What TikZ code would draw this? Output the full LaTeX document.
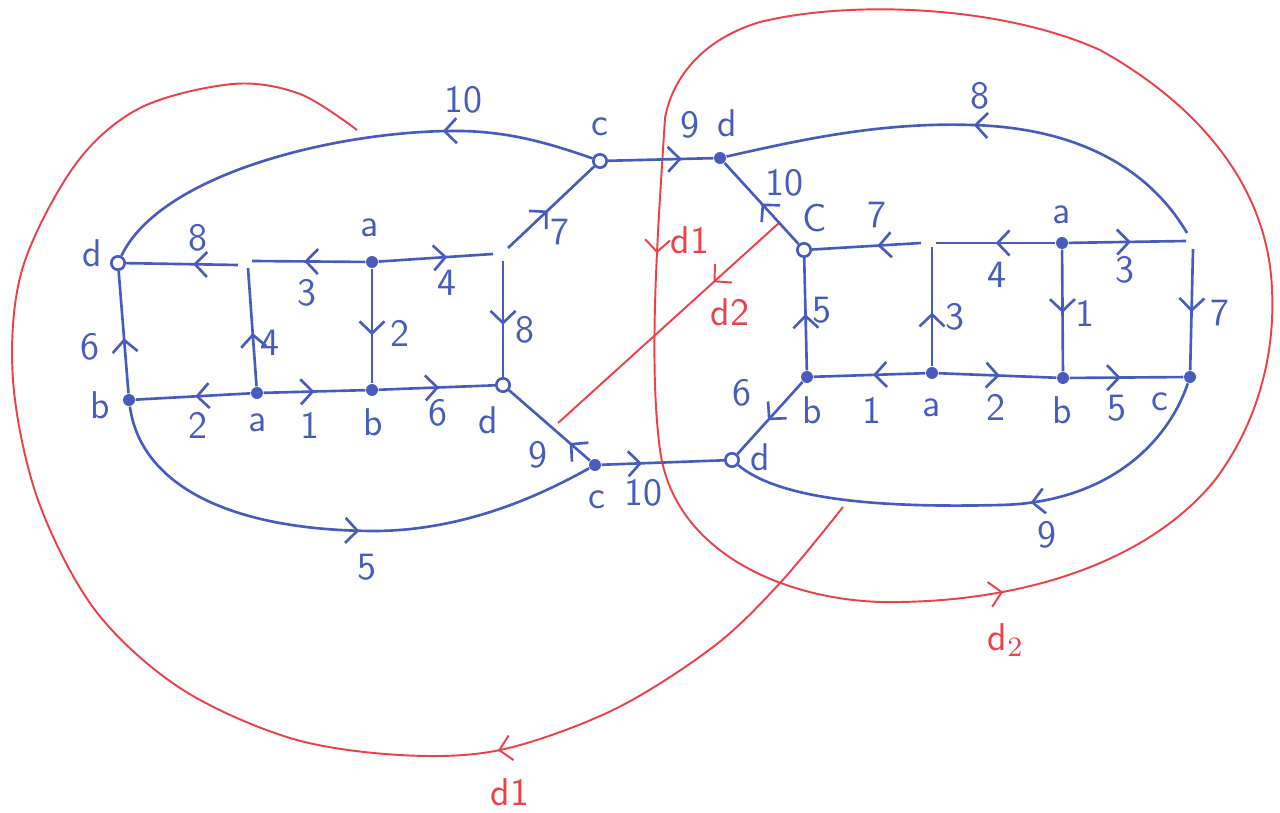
\documentclass[tikz,border=0pt]{standalone}
\usepackage{tikz}
\usetikzlibrary{arrows.meta,decorations.markings}

\definecolor{pen}{RGB}{72,92,190}
\definecolor{redpen}{RGB}{238,64,72}
\tikzset{chev/.tip={Straight Barb[length=1.2mm,width=2.5mm]}}

\begin{document}
\begin{tikzpicture}[
  x=0.01cm, y=-0.01cm,
  font=\sffamily\fontsize{11}{13}\selectfont,
  edge/.style={color=pen, line width=0.75pt},
  cut/.style={color=redpen, line width=0.55pt},
  fwd/.style={postaction={decorate,
    decoration={markings, mark=at position #1 with {\arrow{chev}}}}},
  fwd/.default=0.5,
  dot/.style={circle, fill=pen, inner sep=0pt, minimum size=3.4pt},
  ring/.style={circle, draw=pen, fill=white, line width=0.75pt,
    inner sep=0pt, minimum size=3.8pt},
  lbl/.style={text=pen, inner sep=1pt},
  rlbl/.style={text=redpen, inner sep=1pt}
]
  \useasboundingbox (0,0) rectangle (1280,813);

  % Red curves first, so the graph sits on top.
  \coordinate (r0) at (665,118);
  \draw[cut, fwd=0.068, fwd=0.375] (r0)
    .. controls (658,230) and (648,360) .. (660,450)
    .. controls (675,560) and (800,605) .. (900,602)
    .. controls (1030,600) and (1150,560) .. (1215,480)
    .. controls (1260,420) and (1275,350) .. (1272,290)
    .. controls (1268,180) and (1190,100) .. (1100,50)
    .. controls (1000,5) and (850,0) .. (760,22)
    .. controls (700,40) and (672,80) .. (r0);
  \draw[cut, fwd=0.258] plot[smooth, tension=0.55] coordinates {
    (843,507) (780,583) (713,647) (613,710) (500,750) (400,755) (290,738)
    (180,688) (95,610) (38,500) (13,380) (22,270) (75,165) (140,108)
    (233,84) (300,94) (357,130)};
  \coordinate (d2a) at (780,222);
  \coordinate (d2b) at (558,423);
  \draw[cut, fwd=0.3] (d2a) -- (d2b);

  % Left block vertices.
  \node[ring] (dL)  at (118,263) {};
  \node[dot]  (bL)  at (129,400) {};
  \node[dot]  (aB)  at (257,393) {};
  \node[dot]  (aL)  at (372,262) {};
  \node[dot]  (bM)  at (372,390) {};
  \node[ring] (dL2) at (503,385) {};

  % Middle vertices.
  \node[ring] (cT) at (600,161) {};
  \node[dot]  (dT) at (720,158) {};
  \node[ring] (cR) at (804,250) {};
  \node[dot]  (bR) at (807,377) {};
  \node[dot]  (cB) at (595,465) {};
  \node[ring] (dB) at (732,460) {};

  % Right block vertices.
  \node[dot] (aR)  at (1062,243) {};
  \node[dot] (aRB) at (932,373) {};
  \node[dot] (bRB) at (1063,378) {};
  \node[dot] (cRB) at (1190,377) {};

  % Loose ends where the strokes break.
  \coordinate (g8)  at (238,265);
  \coordinate (g3)  at (252,261);
  \coordinate (g4)  at (493,254);
  \coordinate (gv8) at (503,261);
  \coordinate (g7)  at (508,248);
  \coordinate (gv4) at (248,268);
  \coordinate (h7)  at (921,243);
  \coordinate (h4)  at (936,243);
  \coordinate (h3)  at (1186,241);
  \coordinate (hv7) at (1193,249);
  \coordinate (hv3) at (932,247);
  \coordinate (h8)  at (1187,233);

  % Left block edges.
  \draw[edge, fwd=0.4]  (g8) -- (dL);
  \draw[edge, fwd=0.54] (aL) -- (g3);
  \draw[edge, fwd=0.6]  (aL) -- (g4);
  \draw[edge, fwd=0.55] (gv8) -- (dL2);
  \draw[edge, fwd=0.46] (g7) -- (cT);
  \draw[edge, fwd=0.45] (bL) -- (dL);
  \draw[edge, fwd=0.45] (aB) -- (gv4);
  \draw[edge, fwd=0.58] (aL) -- (bM);
  \draw[edge, fwd=0.48] (aB) -- (bL);
  \draw[edge, fwd=0.5]  (aB) -- (bM);
  \draw[edge, fwd=0.52] (bM) -- (dL2);

  % Middle edges.
  \draw[edge, fwd=0.7]  (cT) -- (dT);
  \draw[edge, fwd=0.5]  (cR) -- (dT);
  \draw[edge, fwd=0.25] (cB) -- (dL2);
  \draw[edge, fwd=0.33] (cB) -- (dB);
  \draw[edge, fwd=0.53] (bR) -- (dB);

  % Long arcs.
  \draw[edge, fwd=0.3] (cT) .. controls (540,140) and (500,130) .. (447,131)
    .. controls (330,133) and (160,175) .. (dL);
  \draw[edge, fwd=0.54] (bL) .. controls (140,480) and (220,530) .. (373,531)
    .. controls (470,531) and (550,490) .. (cB);
  \draw[edge, fwd=0.5] (h8) .. controls (1150,170) and (1080,128) .. (972,125)
    .. controls (880,122) and (800,140) .. (dT);
  \draw[edge, fwd=0.41] (cRB) .. controls (1165,450) and (1100,503) .. (1000,505)
    .. controls (880,508) and (780,500) .. (dB);

  % Right block edges.
  \draw[edge, fwd=0.4]  (h7) -- (cR);
  \draw[edge, fwd=0.5]  (aR) -- (h4);
  \draw[edge, fwd=0.53] (aR) -- (h3);
  \draw[edge, fwd=0.52] (hv7) -- (cRB);
  \draw[edge, fwd=0.45] (aRB) -- (hv3);
  \draw[edge, fwd=0.52] (aR) -- (bRB);
  \draw[edge, fwd=0.5]  (bR) -- (cR);
  \draw[edge, fwd=0.47] (aRB) -- (bR);
  \draw[edge, fwd=0.52] (aRB) -- (bRB);
  \draw[edge, fwd=0.45] (bRB) -- (cRB);

  % Vertex letters.
  \node[lbl] (ldL)  at (92,253)   {d};
  \node[lbl] (laL)  at (370,228)  {a};
  \node[lbl] (lbL)  at (100,405)  {b};
  \node[lbl] (laB)  at (258,423)  {a};
  \node[lbl] (lbM)  at (373,422)  {b};
  \node[lbl] (ldL2) at (488,420)  {d};
  \node[lbl] (lcT)  at (600,127)  {c};
  \node[lbl] (ldT)  at (727,123)  {d};
  \node[lbl] (lcR)  at (815,218)  {C};
  \node[lbl] (lcB)  at (597,500)  {c};
  \node[lbl] (ldB)  at (760,457)  {d};
  \node[lbl] (lbR)  at (812,410)  {b};
  \node[lbl] (laR)  at (1062,215) {a};
  \node[lbl] (laRB) at (932,408)  {a};
  \node[lbl] (lbRB) at (1062,410) {b};
  \node[lbl] (lcRB) at (1160,402) {c};

  % Edge numbers.
  \node[lbl] (n8a)  at (198,238)  {8};
  \node[lbl] (n3a)  at (307,293)  {3};
  \node[lbl] (n4a)  at (447,283)  {4};
  \node[lbl] (n8b)  at (525,330)  {8};
  \node[lbl] (n7a)  at (560,232)  {7};
  \node[lbl] (n6a)  at (90,347)   {6};
  \node[lbl] (n4b)  at (270,343)  {4};
  \node[lbl] (n2a)  at (400,333)  {2};
  \node[lbl] (n2b)  at (198,425)  {2};
  \node[lbl] (n1a)  at (310,425)  {1};
  \node[lbl] (n6b)  at (438,413)  {6};
  \node[lbl] (n10a) at (463,100)  {10};
  \node[lbl] (n5a)  at (367,567)  {5};
  \node[lbl] (n9a)  at (690,125)  {9};
  \node[lbl] (n10b) at (784,183)  {10};
  \node[lbl] (n9b)  at (538,455)  {9};
  \node[lbl] (n10c) at (643,493)  {10};
  \node[lbl] (n6c)  at (742,393)  {6};
  \node[lbl] (n7b)  at (877,215)  {7};
  \node[lbl] (n4c)  at (997,275)  {4};
  \node[lbl] (n3b)  at (1125,270) {3};
  \node[lbl] (n7c)  at (1220,313) {7};
  \node[lbl] (n3c)  at (955,317)  {3};
  \node[lbl] (n1b)  at (1085,313) {1};
  \node[lbl] (n5b)  at (822,310)  {5};
  \node[lbl] (n1c)  at (872,410)  {1};
  \node[lbl] (n2c)  at (996,407)  {2};
  \node[lbl] (n5c)  at (1117,408) {5};
  \node[lbl] (n8c)  at (980,96)   {8};
  \node[lbl] (n9c)  at (1047,535) {9};

  % Red names.
  \node[rlbl] (rd1a) at (690,240)  {d1};
  \node[rlbl] (rd2a) at (730,312)  {d2};
  \node[rlbl] (rd2b) at (1006,640) {d$_2$};
  \node[rlbl] (rd1b) at (510,792)  {d1};

\end{tikzpicture}
\end{document}
